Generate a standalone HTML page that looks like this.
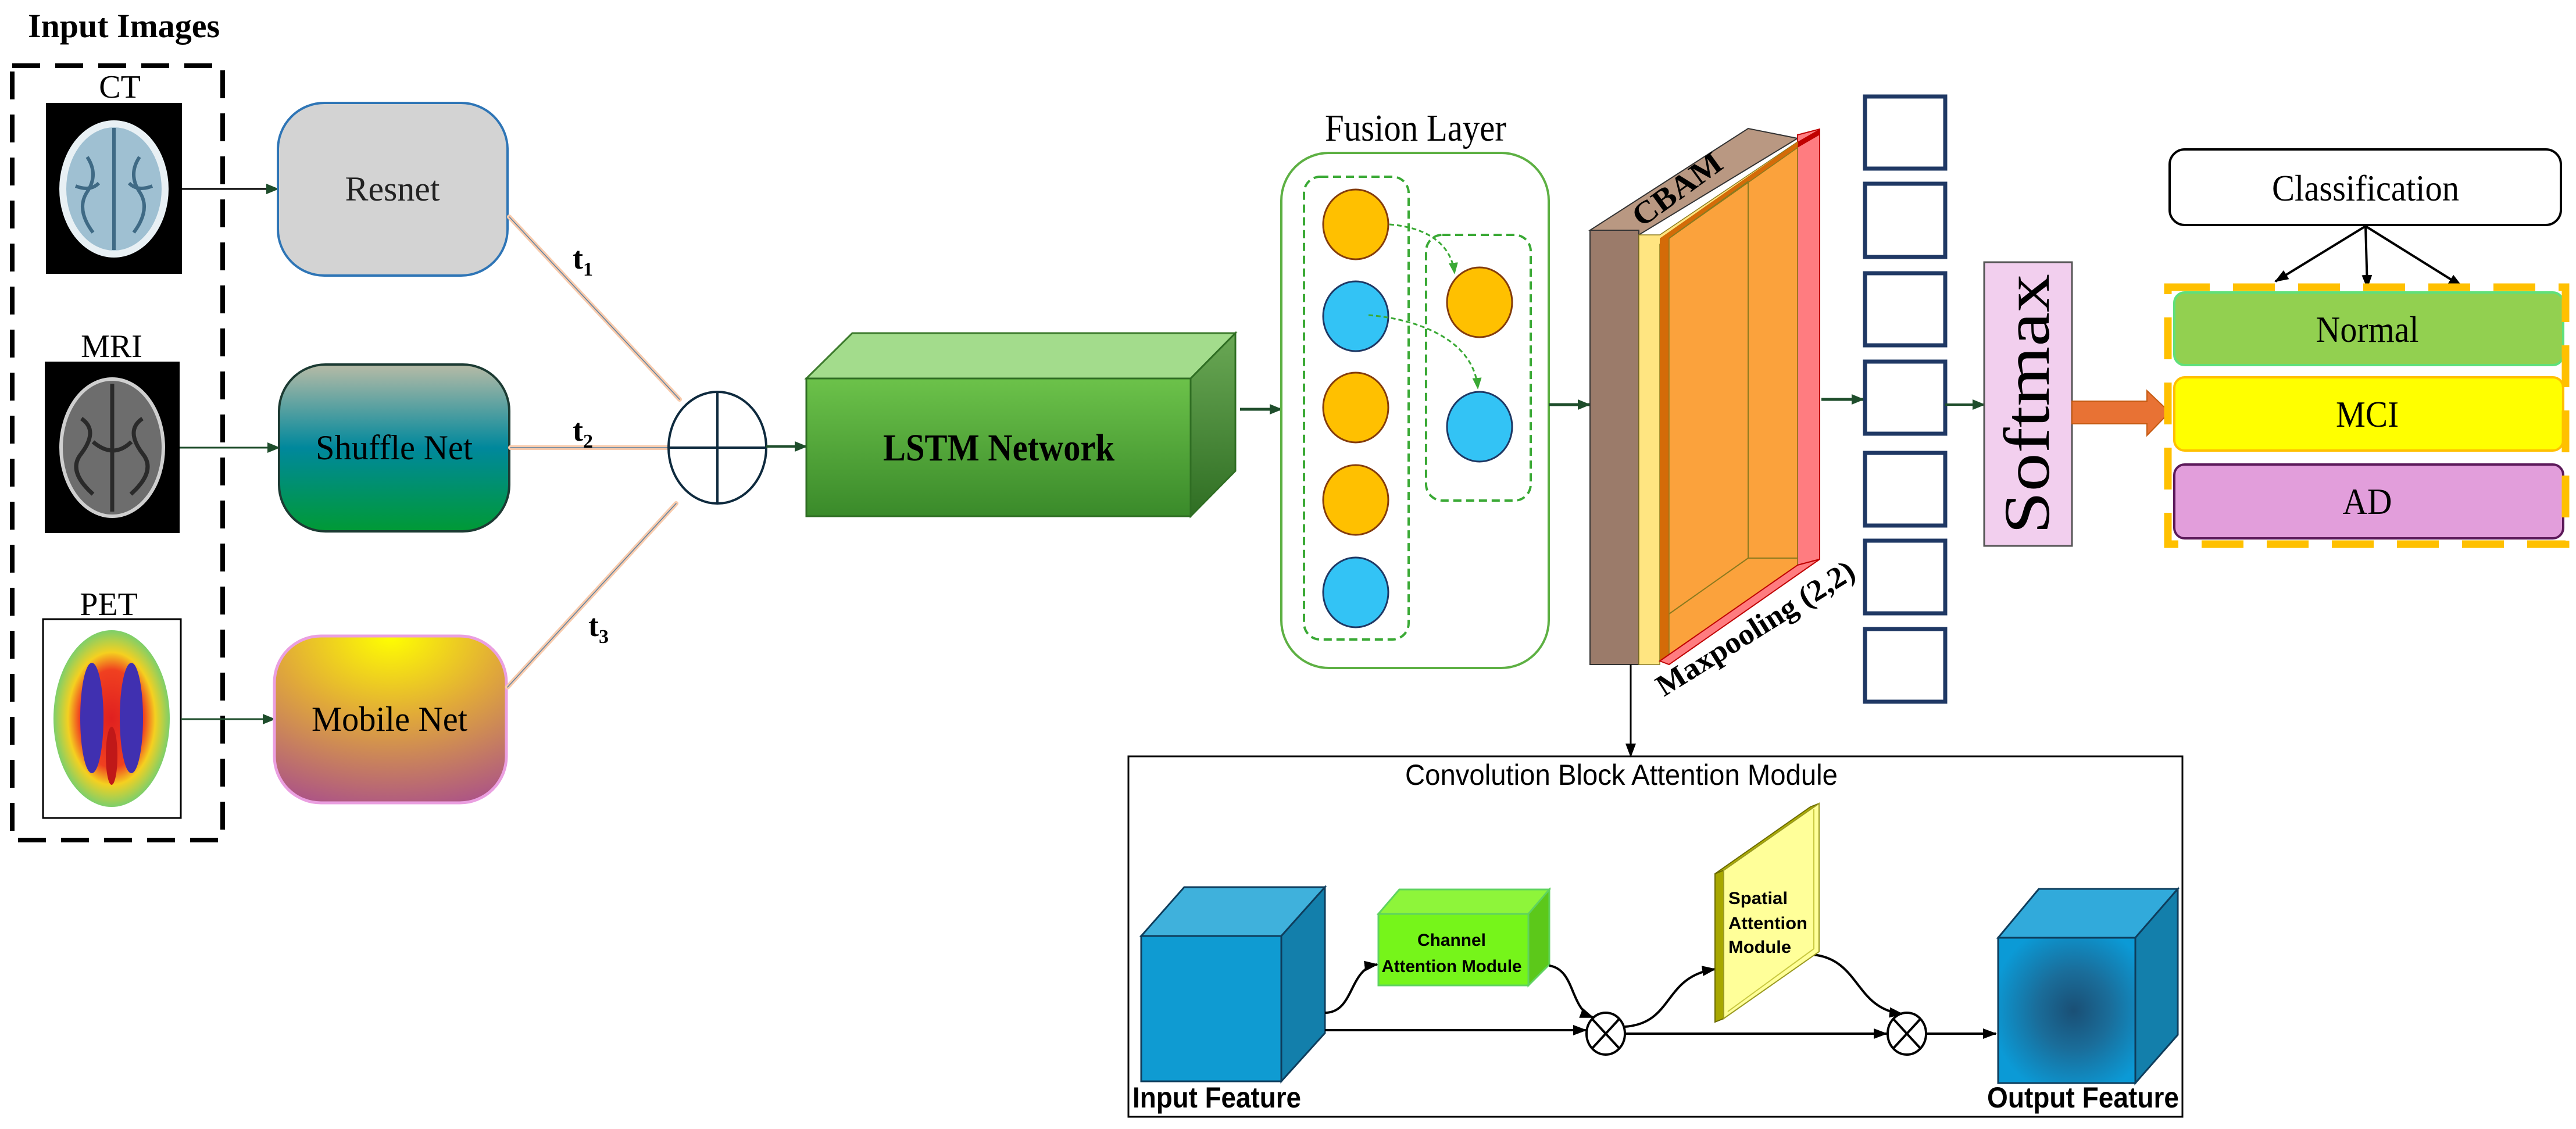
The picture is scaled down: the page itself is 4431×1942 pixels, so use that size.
<!DOCTYPE html>
<html><head><meta charset="utf-8"><style>html,body{margin:0;padding:0;background:#fff}svg{display:block}</style></head>
<body>
<svg xmlns="http://www.w3.org/2000/svg" width="4431" height="1942" viewBox="0 0 4431 1942">
<defs>
<marker id="agl" markerWidth="22" markerHeight="22" refX="20" refY="11" orient="auto" markerUnits="userSpaceOnUse"><path d="M0,2 L22,11 L0,20 z" fill="#1e4d2b"/></marker>
<marker id="ab" markerWidth="24" markerHeight="24" refX="22" refY="12" orient="auto" markerUnits="userSpaceOnUse"><path d="M0,3 L24,12 L0,21 z" fill="#000"/></marker>
<marker id="agr" markerWidth="20" markerHeight="20" refX="18" refY="10" orient="auto" markerUnits="userSpaceOnUse"><path d="M0,2 L20,10 L0,18 z" fill="#3aa935"/></marker>
<linearGradient id="shuf" x1="0" y1="0" x2="0" y2="1"><stop offset="0" stop-color="#b7bba6"/><stop offset="0.5" stop-color="#00889c"/><stop offset="1" stop-color="#009a35"/></linearGradient>
<radialGradient id="mob" cx="0.5" cy="0" r="1.1"><stop offset="0" stop-color="#ffff00"/><stop offset="0.45" stop-color="#e0a83a"/><stop offset="1" stop-color="#a84d8c"/></radialGradient>
<linearGradient id="lstmF" x1="0" y1="0" x2="0" y2="1"><stop offset="0" stop-color="#6cc24a"/><stop offset="1" stop-color="#3a8a2a"/></linearGradient>
<linearGradient id="lstmS" x1="0" y1="0" x2="0" y2="1"><stop offset="0" stop-color="#6aa855"/><stop offset="1" stop-color="#2f6e23"/></linearGradient>
<radialGradient id="pet" cx="0.5" cy="0.5" r="0.5"><stop offset="0" stop-color="#e02020"/><stop offset="0.55" stop-color="#f04020"/><stop offset="0.75" stop-color="#f5d020"/><stop offset="1" stop-color="#7dcf6a"/></radialGradient>
<radialGradient id="outg" cx="0.55" cy="0.5" r="0.6"><stop offset="0" stop-color="#1a4f75"/><stop offset="0.45" stop-color="#1a6d9a"/><stop offset="1" stop-color="#0b9ad6"/></radialGradient>
</defs>

<!-- Input images -->
<text x="213" y="64" font-family="Liberation Serif" font-weight="bold" font-size="58" text-anchor="middle" textLength="330" lengthAdjust="spacingAndGlyphs">Input Images</text>
<rect x="21" y="113" width="362" height="1332" fill="none" stroke="#000" stroke-width="8" stroke-dasharray="48,26"/>
<text x="206" y="168" font-family="Liberation Serif" font-size="56" text-anchor="middle">CT</text>
<rect x="79" y="177" width="234" height="294" fill="#000"/>
<ellipse cx="196" cy="325" rx="88" ry="112" fill="#9fc0d2" stroke="#e8f0f4" stroke-width="12"/>
<path d="M196,220 L196,430 M150,270 q20,30 0,60 q-20,30 10,70 M240,270 q-20,30 0,60 q20,30 -10,70 M130,320 q25,10 40,-5 M262,320 q-25,10 -40,-5" stroke="#3f6a85" stroke-width="6" fill="none"/>
<text x="192" y="614" font-family="Liberation Serif" font-size="56" text-anchor="middle">MRI</text>
<rect x="77" y="622" width="232" height="295" fill="#000"/>
<ellipse cx="193" cy="770" rx="88" ry="118" fill="#6d6d6d" stroke="#cfcfcf" stroke-width="6"/>
<path d="M193,660 L193,880 M140,720 q30,20 0,60 q-25,30 20,70 M245,720 q-30,20 0,60 q25,30 -20,70 M160,760 q35,30 66,0" stroke="#2a2a2a" stroke-width="7" fill="none"/>
<text x="187" y="1058" font-family="Liberation Serif" font-size="56" text-anchor="middle">PET</text>
<rect x="74" y="1065" width="237" height="342" fill="#fff" stroke="#000" stroke-width="3"/>
<ellipse cx="192" cy="1236" rx="100" ry="152" fill="url(#pet)"/>
<ellipse cx="158" cy="1235" rx="20" ry="95" fill="#4030b0"/>
<ellipse cx="226" cy="1235" rx="20" ry="95" fill="#4030b0"/>
<ellipse cx="192" cy="1300" rx="10" ry="50" fill="#c01818"/>

<!-- input arrows -->
<line x1="313" y1="325" x2="478" y2="325" stroke="#000" stroke-width="3" marker-end="url(#agl)"/>
<line x1="309" y1="770" x2="480" y2="770" stroke="#1e4d2b" stroke-width="3" marker-end="url(#agl)"/>
<line x1="311" y1="1237" x2="472" y2="1237" stroke="#1e4d2b" stroke-width="3" marker-end="url(#agl)"/>

<!-- backbone boxes -->
<rect x="478" y="177" width="395" height="297" rx="80" fill="#d3d3d3" stroke="#2e75b6" stroke-width="4"/>
<text x="675" y="345" font-family="Liberation Serif" font-size="60" text-anchor="middle" fill="#222" textLength="163" lengthAdjust="spacingAndGlyphs">Resnet</text>
<rect x="480" y="627" width="396" height="287" rx="80" fill="url(#shuf)" stroke="#1c3b33" stroke-width="4"/>
<text x="678" y="790" font-family="Liberation Serif" font-size="60" text-anchor="middle" textLength="270" lengthAdjust="spacingAndGlyphs">Shuffle Net</text>
<rect x="472" y="1094" width="399" height="287" rx="80" fill="url(#mob)" stroke="#ea9fe0" stroke-width="5"/>
<text x="670" y="1257" font-family="Liberation Serif" font-size="60" text-anchor="middle" textLength="268" lengthAdjust="spacingAndGlyphs">Mobile Net</text>

<!-- t lines -->
<g stroke-linecap="round">
<line x1="876" y1="373" x2="1169" y2="687" stroke="#f8cbad" stroke-width="8"/>
<line x1="876" y1="373" x2="1169" y2="687" stroke="#5a7fa0" stroke-width="1.5"/>
<line x1="878" y1="770" x2="1148" y2="770" stroke="#f8cbad" stroke-width="8"/>
<line x1="878" y1="770" x2="1148" y2="770" stroke="#5a7fa0" stroke-width="1.5"/>
<line x1="873" y1="1182" x2="1163" y2="866" stroke="#f8cbad" stroke-width="8"/>
<line x1="873" y1="1182" x2="1163" y2="866" stroke="#5a7fa0" stroke-width="1.5"/>
</g>
<text x="985" y="462" font-family="Liberation Serif" font-weight="bold" font-size="54">t<tspan font-size="34" dy="12">1</tspan></text>
<text x="985" y="758" font-family="Liberation Serif" font-weight="bold" font-size="54">t<tspan font-size="34" dy="12">2</tspan></text>
<text x="1012" y="1094" font-family="Liberation Serif" font-weight="bold" font-size="54">t<tspan font-size="34" dy="12">3</tspan></text>
<ellipse cx="1234" cy="770" rx="84" ry="96" fill="#fff" stroke="#0e2a3e" stroke-width="4"/>
<line x1="1150" y1="770" x2="1318" y2="770" stroke="#0e2a3e" stroke-width="4"/>
<line x1="1234" y1="674" x2="1234" y2="866" stroke="#0e2a3e" stroke-width="4"/>
<line x1="1318" y1="768" x2="1387" y2="768" stroke="#1e4d2b" stroke-width="4" marker-end="url(#agl)"/>

<!-- LSTM -->
<polygon points="1387,651 1466,573 2125,573 2048,651" fill="#a3dc8c" stroke="#3c7a2c" stroke-width="3"/>
<polygon points="2048,651 2125,573 2125,810 2048,888" fill="url(#lstmS)" stroke="#2f6e23" stroke-width="3"/>
<rect x="1387" y="651" width="661" height="237" fill="url(#lstmF)" stroke="#2f6e23" stroke-width="3"/>
<text x="1718" y="792" font-family="Liberation Serif" font-weight="bold" font-size="66" text-anchor="middle" textLength="398" lengthAdjust="spacingAndGlyphs">LSTM Network</text>
<line x1="2133" y1="704" x2="2204" y2="704" stroke="#1e4d2b" stroke-width="5" marker-end="url(#agl)"/>

<!-- Fusion -->
<text x="2435" y="242" font-family="Liberation Serif" font-size="66" text-anchor="middle" textLength="312" lengthAdjust="spacingAndGlyphs">Fusion Layer</text>
<rect x="2204" y="263" width="460" height="886" rx="82" fill="#fff" stroke="#5db043" stroke-width="4"/>
<rect x="2243" y="304" width="180" height="796" rx="28" fill="none" stroke="#3aa935" stroke-width="4" stroke-dasharray="14,8"/>
<rect x="2453" y="404" width="180" height="457" rx="28" fill="none" stroke="#3aa935" stroke-width="4" stroke-dasharray="14,8"/>
<g stroke-width="3">
<ellipse cx="2332" cy="386" rx="56" ry="60" fill="#ffc000" stroke="#843c0c"/>
<ellipse cx="2332" cy="544" rx="56" ry="60" fill="#33c3f5" stroke="#1f3864"/>
<ellipse cx="2332" cy="701" rx="56" ry="60" fill="#ffc000" stroke="#843c0c"/>
<ellipse cx="2332" cy="860" rx="56" ry="60" fill="#ffc000" stroke="#843c0c"/>
<ellipse cx="2332" cy="1019" rx="56" ry="60" fill="#33c3f5" stroke="#1f3864"/>
<ellipse cx="2545" cy="520" rx="56" ry="60" fill="#ffc000" stroke="#843c0c"/>
<ellipse cx="2545" cy="734" rx="56" ry="60" fill="#33c3f5" stroke="#1f3864"/>
</g>
<path d="M2390,386 C2440,390 2495,410 2502,470" fill="none" stroke="#3aa935" stroke-width="3" stroke-dasharray="8,5" marker-end="url(#agr)"/>
<path d="M2354,542 C2430,548 2535,580 2542,668" fill="none" stroke="#3aa935" stroke-width="3" stroke-dasharray="8,5" marker-end="url(#agr)"/>
<line x1="2664" y1="696" x2="2734" y2="696" stroke="#1e4d2b" stroke-width="5" marker-end="url(#agl)"/>

<!-- CBAM slab -->
<polygon points="2735,396 2819,404 3092,238 3007,221" fill="#b99882" stroke="#333" stroke-width="2"/>
<rect x="2735" y="396" width="84" height="747" fill="#9b7b6a" stroke="#333" stroke-width="2"/>
<polygon points="3092,232 3130,222 3130,962 3092,972" fill="#ff7c80" stroke="#c00000" stroke-width="2"/>
<polygon points="3092,244 3130,222 3130,232 3092,254" fill="#c00000"/>
<polygon points="2819,404 2855,404 3092,244 3092,250 2855,420 2855,1143 2819,1143" fill="#ffe581" stroke="#8b7a1e" stroke-width="1.5"/>
<polygon points="2855,410 2871,410 2871,1126 2855,1137" fill="#d46b08"/>
<polygon points="2855,410 3092,244 3092,254 2871,410" fill="#d46b08"/>
<polygon points="2871,410 3092,254 3092,972 2871,1126" fill="#fba23c" stroke="#8b7a1e" stroke-width="1.5"/>
<path d="M3007,312 L3007,960 L3092,960 M3007,960 L2871,1056 M3007,312 L2871,410" stroke="#8b7a1e" stroke-width="2" fill="none"/>
<polygon points="2855,1137 3092,972 3130,962 2871,1143" fill="#ff7c80" stroke="#c00000" stroke-width="2"/>
<text x="2888" y="330" font-family="Liberation Serif" font-weight="bold" font-size="54" text-anchor="middle" dominant-baseline="middle" transform="rotate(-36 2888 330)" textLength="177" lengthAdjust="spacingAndGlyphs">CBAM</text>
<text x="3022" y="1085" font-family="Liberation Serif" font-weight="bold" font-size="52" text-anchor="middle" dominant-baseline="middle" transform="rotate(-32 3022 1085)" textLength="392" lengthAdjust="spacingAndGlyphs">Maxpooling (2,2)</text>
<line x1="3133" y1="687" x2="3205" y2="687" stroke="#1e4d2b" stroke-width="5" marker-end="url(#agl)"/>

<!-- column boxes -->
<g fill="#fff" stroke="#1f3864" stroke-width="7">
<rect x="3208" y="166" width="138" height="124"/>
<rect x="3208" y="316" width="138" height="126"/>
<rect x="3208" y="470" width="138" height="124"/>
<rect x="3208" y="622" width="138" height="124"/>
<rect x="3208" y="779" width="138" height="125"/>
<rect x="3208" y="930" width="138" height="125"/>
<rect x="3208" y="1082" width="138" height="125"/>
</g>
<line x1="3346" y1="696" x2="3413" y2="696" stroke="#1e4d2b" stroke-width="4" marker-end="url(#agl)"/>

<!-- Softmax -->
<rect x="3413" y="451" width="151" height="488" fill="#f2cfee" stroke="#555" stroke-width="3"/>
<text x="3524" y="695" font-family="Liberation Serif" font-size="112" text-anchor="middle" transform="rotate(-90 3524 695)" textLength="448" lengthAdjust="spacingAndGlyphs">Softmax</text>
<polygon points="3564,690 3693,690 3693,672 3732,709 3693,749 3693,729 3564,729" fill="#e87234" stroke="#c55a11" stroke-width="2"/>

<!-- Classification -->
<rect x="3732" y="257" width="673" height="130" rx="26" fill="#fff" stroke="#000" stroke-width="4"/>
<text x="4069" y="345" font-family="Liberation Serif" font-size="64" text-anchor="middle" textLength="322" lengthAdjust="spacingAndGlyphs">Classification</text>
<line x1="4069" y1="389" x2="3914" y2="484" stroke="#000" stroke-width="4" marker-end="url(#ab)"/>
<line x1="4069" y1="389" x2="4072" y2="495" stroke="#000" stroke-width="4" marker-end="url(#ab)"/>
<line x1="4069" y1="389" x2="4234" y2="492" stroke="#000" stroke-width="4" marker-end="url(#ab)"/>
<rect x="3740" y="503" width="669" height="125" rx="18" fill="#92d050" stroke="#5fe07a" stroke-width="4"/>
<text x="4072" y="588" font-family="Liberation Serif" font-size="64" text-anchor="middle" textLength="177" lengthAdjust="spacingAndGlyphs">Normal</text>
<rect x="3740" y="649" width="669" height="126" rx="18" fill="#ffff00" stroke="#ffc000" stroke-width="4"/>
<text x="4072" y="734" font-family="Liberation Serif" font-size="64" text-anchor="middle" textLength="108" lengthAdjust="spacingAndGlyphs">MCI</text>
<rect x="3740" y="799" width="669" height="127" rx="18" fill="#e29edb" stroke="#5c1a5a" stroke-width="4"/>
<text x="4072" y="884" font-family="Liberation Serif" font-size="64" text-anchor="middle" textLength="85" lengthAdjust="spacingAndGlyphs">AD</text>
<rect x="3729" y="494" width="684" height="442" fill="none" stroke="#ffc000" stroke-width="13" stroke-dasharray="72,40"/>

<!-- down arrow to CBAM module -->
<line x1="2805" y1="1143" x2="2805" y2="1301" stroke="#000" stroke-width="3" marker-end="url(#ab)"/>

<!-- CBAM module box -->
<rect x="1941" y="1301" width="1813" height="620" fill="none" stroke="#000" stroke-width="3"/>
<text x="2417" y="1350" font-family="Liberation Sans" font-size="50" textLength="744" lengthAdjust="spacingAndGlyphs">Convolution Block Attention Module</text>

<!-- input cube -->
<polygon points="1963,1610 2037,1526 2279,1526 2204,1610" fill="#3fb1dc" stroke="#0e3d5c" stroke-width="3"/>
<polygon points="2204,1610 2279,1526 2279,1777 2204,1860" fill="#137fab" stroke="#0e3d5c" stroke-width="3"/>
<rect x="1963" y="1610" width="241" height="250" fill="#0f9bd2" stroke="#0e3d5c" stroke-width="3"/>
<text x="1948" y="1905" font-family="Liberation Sans" font-weight="bold" font-size="50" textLength="290" lengthAdjust="spacingAndGlyphs">Input Feature</text>

<!-- channel attention cube -->
<polygon points="2371,1572 2407,1530 2665,1530 2629,1572" fill="#8ef53a" stroke="#5fd35f" stroke-width="3"/>
<polygon points="2629,1572 2665,1530 2665,1659 2629,1695" fill="#5cc81a" stroke="#5fd35f" stroke-width="3"/>
<rect x="2371" y="1572" width="258" height="123" fill="#76f51a" stroke="#5fd35f" stroke-width="3"/>
<text x="2497" y="1627" font-family="Liberation Sans" font-weight="bold" font-size="30" text-anchor="middle" textLength="118" lengthAdjust="spacingAndGlyphs">Channel</text>
<text x="2497" y="1672" font-family="Liberation Sans" font-weight="bold" font-size="30" text-anchor="middle" textLength="241" lengthAdjust="spacingAndGlyphs">Attention Module</text>

<!-- flows -->
<path d="M2279,1742 C2330,1742 2320,1665 2369,1659" fill="none" stroke="#000" stroke-width="4" marker-end="url(#ab)"/>
<line x1="2279" y1="1772" x2="2728" y2="1772" stroke="#000" stroke-width="4" marker-end="url(#ab)"/>
<path d="M2665,1661 C2710,1668 2700,1735 2740,1750" fill="none" stroke="#000" stroke-width="4" marker-end="url(#ab)"/>
<g stroke="#000" stroke-width="4" fill="#fff">
<ellipse cx="2762" cy="1778" rx="33" ry="36"/>
<ellipse cx="3280" cy="1778" rx="33" ry="36"/>
</g>
<path d="M2739,1753 L2785,1803 M2785,1753 L2739,1803 M3257,1753 L3303,1803 M3303,1753 L3257,1803" stroke="#000" stroke-width="4"/>
<path d="M2795,1766 C2880,1760 2860,1680 2950,1667" fill="none" stroke="#000" stroke-width="4" marker-end="url(#ab)"/>
<line x1="2795" y1="1778" x2="3245" y2="1778" stroke="#000" stroke-width="4" marker-end="url(#ab)"/>
<path d="M3118,1642 C3200,1650 3190,1735 3272,1744" fill="none" stroke="#000" stroke-width="4" marker-end="url(#ab)"/>
<line x1="3313" y1="1778" x2="3433" y2="1778" stroke="#000" stroke-width="4" marker-end="url(#ab)"/>

<!-- spatial panel -->
<polygon points="2950,1503 2965,1497 3129,1382 3114,1388" fill="#b5b500" stroke="#6b6b00" stroke-width="2"/>
<polygon points="2950,1503 2965,1497 2965,1752 2950,1758" fill="#a7a700" stroke="#6b6b00" stroke-width="2"/>
<polygon points="2965,1497 3129,1382 3129,1637 2965,1752" fill="#ffff99" stroke="#9a9a20" stroke-width="2"/>
<path d="M3120,1392 L3120,1632 L2972,1740" fill="none" stroke="#c8c840" stroke-width="2"/>
<text x="2973" y="1555" font-family="Liberation Sans" font-weight="bold" font-size="30" textLength="102" lengthAdjust="spacingAndGlyphs">Spatial</text>
<text x="2973" y="1598" font-family="Liberation Sans" font-weight="bold" font-size="30" textLength="136" lengthAdjust="spacingAndGlyphs">Attention</text>
<text x="2973" y="1639" font-family="Liberation Sans" font-weight="bold" font-size="30" textLength="108" lengthAdjust="spacingAndGlyphs">Module</text>

<!-- output cube -->
<polygon points="3437,1613 3507,1529 3746,1529 3673,1613" fill="#31aadb" stroke="#0e3d5c" stroke-width="3"/>
<polygon points="3673,1613 3746,1529 3746,1780 3673,1863" fill="#137fab" stroke="#0e3d5c" stroke-width="3"/>
<rect x="3437" y="1613" width="236" height="250" fill="url(#outg)" stroke="#0e3d5c" stroke-width="3"/>
<text x="3418" y="1905" font-family="Liberation Sans" font-weight="bold" font-size="50" textLength="330" lengthAdjust="spacingAndGlyphs">Output Feature</text>
</svg>
</body></html>
